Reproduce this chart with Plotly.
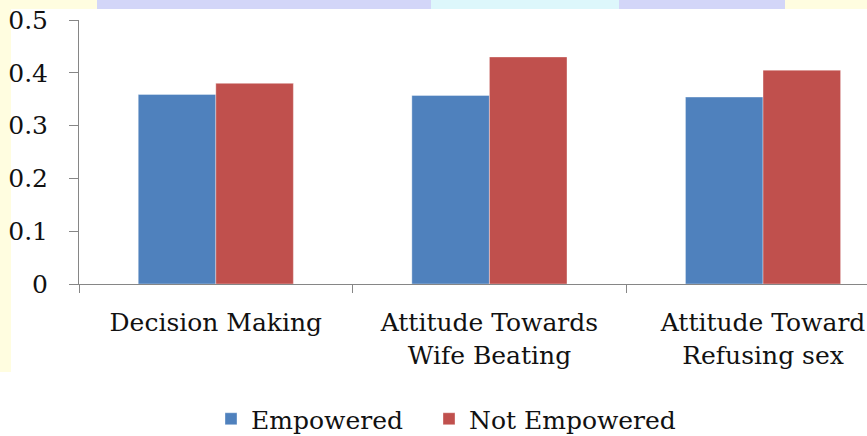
import plotly.graph_objects as go

categories = ["Decision Making", "Attitude Towards<br>Wife Beating", "Attitude Toward<br>Refusing sex"]
empowered = [0.359, 0.357, 0.354]
not_empowered = [0.380, 0.430, 0.405]
series_names = ["Empowered", "Not Empowered"]
y_ticks = [0, 0.1, 0.2, 0.3, 0.4, 0.5]
y_tick_labels = ["0", "0.1", "0.2", "0.3", "0.4", "0.5"]

FONT = "DejaVu Serif"
AXIS_COLOR = "#868686"

fig = go.Figure()
fig.add_trace(go.Bar(x=categories, y=empowered, name=series_names[0], legend="legend",
                     marker=dict(color="#4F81BD", line=dict(color="rgba(255,255,255,0.6)", width=0.6))))
fig.add_trace(go.Bar(x=categories, y=not_empowered, name=series_names[1], legend="legend2",
                     marker=dict(color="#C0504D", line=dict(color="rgba(255,255,255,0.6)", width=0.6))))

PW = 788.0
PH = 264.0
def px_x(p):
    return (p - 79) / PW
def px_y(p):
    return (284 - p) / PH

shapes = [
    dict(type="rect", xref="paper", yref="paper", x0=px_x(0), x1=px_x(11), y0=px_y(372), y1=px_y(0),
         fillcolor="#FFFDE0", line=dict(width=0), layer="below"),
    dict(type="rect", xref="paper", yref="paper", x0=px_x(0), x1=px_x(97), y0=px_y(9), y1=px_y(0),
         fillcolor="#FFFDE0", line=dict(width=0), layer="below"),
    dict(type="rect", xref="paper", yref="paper", x0=px_x(97), x1=px_x(431), y0=px_y(9), y1=px_y(0),
         fillcolor="#D3D6F8", line=dict(width=0), layer="below"),
    dict(type="rect", xref="paper", yref="paper", x0=px_x(431), x1=px_x(619), y0=px_y(9), y1=px_y(0),
         fillcolor="#DDF7FB", line=dict(width=0), layer="below"),
    dict(type="rect", xref="paper", yref="paper", x0=px_x(619), x1=px_x(785), y0=px_y(9), y1=px_y(0),
         fillcolor="#D3D6F8", line=dict(width=0), layer="below"),
    dict(type="rect", xref="paper", yref="paper", x0=px_x(785), x1=1, y0=px_y(9), y1=px_y(0),
         fillcolor="#FFFDE0", line=dict(width=0), layer="below"),
]

legend_common = dict(orientation="h", xanchor="left", yanchor="middle", y=px_y(419),
                     font=dict(family=FONT, size=25, color="#111111"), bgcolor="rgba(0,0,0,0)")

fig.update_layout(
    width=867, height=436,
    margin=dict(l=79, r=0, t=20, b=152, autoexpand=False),
    paper_bgcolor="white", plot_bgcolor="white",
    barmode="group", bargap=0.433, bargroupgap=0,
    font=dict(family=FONT, size=25, color="#111111"),
    shapes=shapes,
    showlegend=True,
    legend=dict(x=px_x(211), **legend_common),
    legend2=dict(x=px_x(429), **legend_common),
    xaxis=dict(type="category", range=[-0.5, 2.38], showline=True, linecolor=AXIS_COLOR, linewidth=1,
               ticks="outside", tickson="boundaries", ticklen=8, tickcolor=AXIS_COLOR,
               showgrid=False, zeroline=False, ticklabelstandoff=16,
               tickfont=dict(family=FONT, size=25, color="#111111")),
    yaxis=dict(range=[0, 0.5], tickvals=y_ticks, ticktext=y_tick_labels, showline=True,
               linecolor=AXIS_COLOR, linewidth=1, ticks="outside", ticklen=9, tickcolor=AXIS_COLOR,
               showgrid=False, zeroline=False, ticklabelstandoff=16,
               tickfont=dict(family=FONT, size=25, color="#111111")),
)

fig.write_html("out.html")
